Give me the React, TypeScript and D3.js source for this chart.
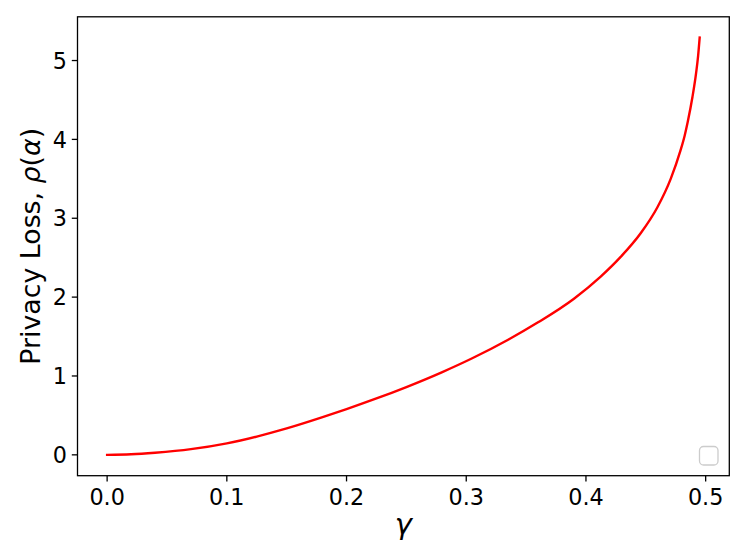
import React from "react";
import * as d3 from "d3";

const gammaValues = [0, 0.02, 0.04, 0.07, 0.1, 0.125, 0.15, 0.18, 0.2, 0.225, 0.25, 0.28, 0.305, 0.335, 0.36, 0.39, 0.4123, 0.429, 0.4457, 0.4597, 0.4708, 0.479, 0.4825, 0.485, 0.489, 0.492, 0.4937, 0.495];
const lossValues = [0, 0.007, 0.027, 0.072, 0.146, 0.232, 0.335, 0.478, 0.58, 0.715, 0.86, 1.05, 1.225, 1.46, 1.68, 1.98, 2.26, 2.51, 2.81, 3.14, 3.5, 3.86, 4.05, 4.22, 4.54, 4.84, 5.06, 5.29];
const xTicks = [0, 0.1, 0.2, 0.3, 0.4, 0.5];
const yTicks = [0, 1, 2, 3, 4, 5];

const W = 747, H = 560;
const left = 77.5, right = 729.3, top = 16.8, bottom = 475.7;

export default function App() {
  const xMax = d3.max(gammaValues) as number;
  const yMax = d3.max(lossValues) as number;
  const x = d3.scaleLinear().domain([-0.05 * xMax, 1.05 * xMax]).range([left, right]);
  const y = d3.scaleLinear().domain([-0.05 * yMax, 1.05 * yMax]).range([bottom, top]);
  const pts = gammaValues.map((g, i) => [g, lossValues[i]] as [number, number]);
  const line = d3.line<[number, number]>().x(d => x(d[0])).y(d => y(d[1])).curve(d3.curveMonotoneX);
  const font = "DejaVu Sans";
  const tickLen = 5.7;
  const tickFont = 22.3;
  return (
    <div style={{ position: "absolute", left: 0, top: 0 }}>
      <svg width={W} height={H} style={{ display: "block", background: "#fff" }} fontFamily={font}>
        <path d={line(pts) || ""} fill="none" stroke="red" strokeWidth={2.4} strokeLinecap="square" />
        <rect x={left} y={top} width={right - left} height={bottom - top} fill="none" stroke="#000" strokeWidth={1.3} />
        {xTicks.map(t => (
          <g key={"x" + t}>
            <line x1={x(t)} x2={x(t)} y1={bottom} y2={bottom + tickLen} stroke="#000" strokeWidth={1.3} />
            <text x={x(t)} y={505} textAnchor="middle" fontSize={tickFont} fill="#000">{t.toFixed(1)}</text>
          </g>
        ))}
        {yTicks.map(t => (
          <g key={"y" + t}>
            <line x1={left} x2={left - tickLen} y1={y(t)} y2={y(t)} stroke="#000" strokeWidth={1.3} />
            <text x={left - 10.5} y={y(t)} dy="0.364em" textAnchor="end" fontSize={tickFont} fill="#000">{t}</text>
          </g>
        ))}
        <text x={(left + right) / 2} y={534} textAnchor="middle" fontSize={29} fontStyle="italic" fill="#000">γ</text>
        <text transform={`translate(40,${(top + bottom) / 2}) rotate(-90)`} textAnchor="middle" fontSize={26.8} fill="#000">
          Privacy Loss, <tspan fontStyle="italic">ρ</tspan>(<tspan fontStyle="italic">α</tspan>)
        </text>
        <rect x={699.5} y={446.5} width={18.5} height={18.5} rx={4} fill="#fff" stroke="#ccc" strokeWidth={1.3} />
      </svg>
    </div>
  );
}
